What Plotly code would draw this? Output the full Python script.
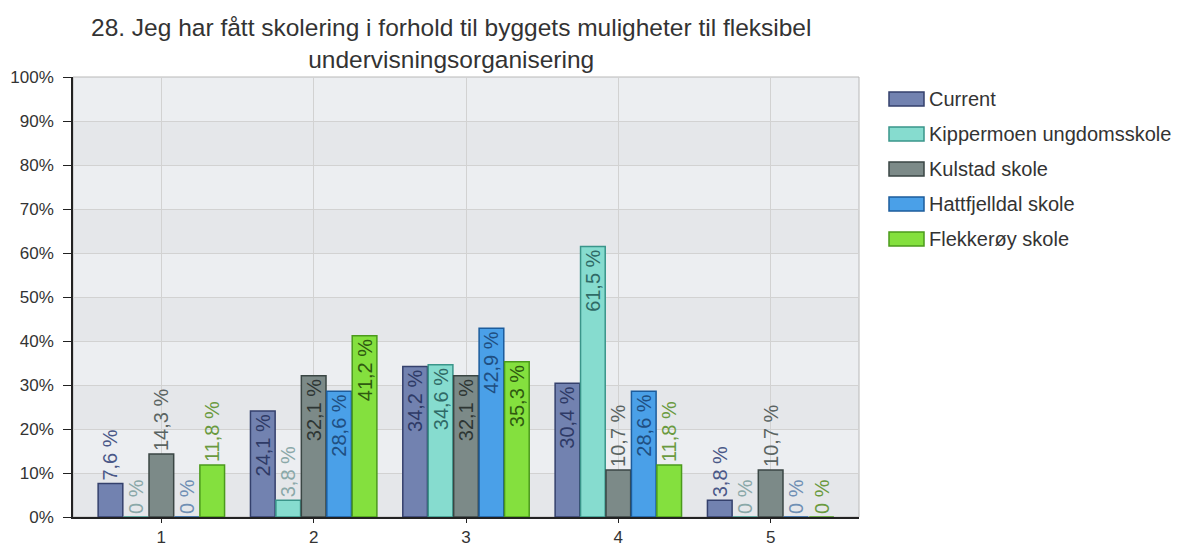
import plotly.graph_objects as go

# 数据
categories = ["1", "2", "3", "4", "5"]
series_names = ["Current", "Kippermoen ungdomsskole", "Kulstad skole",
                "Hattfjelldal skole", "Flekkerøy skole"]
current = [7.6, 24.1, 34.2, 30.4, 3.8]
kippermoen = [0, 3.8, 34.6, 61.5, 0]
kulstad = [14.3, 32.1, 32.1, 10.7, 10.7]
hattfjelldal = [0, 28.6, 42.9, 28.6, 0]
flekkeroy = [11.8, 41.2, 35.3, 11.8, 0]
y_ticks = [0, 10, 20, 30, 40, 50, 60, 70, 80, 90, 100]

title_text = ("28. Jeg har fått skolering i forhold til byggets muligheter til fleksibel"
              "<br>undervisningsorganisering")

fills = ["#7282b0", "#86dccf", "#7c8a88", "#4aa0e8", "#84e03e"]
borders = ["#34406c", "#3a958a", "#3a4644", "#1c5c9c", "#4b9a1c"]
label_colors = ["#4a5888", "#8aa8a8", "#5a6462", "#6f8fb4", "#6a9a40"]
inside_colors = ["#2e3a66", "#2f6a66", "#2e3634", "#1f4f82", "#2f5a10"]

# 页面 body 有 8px 边距，所以像素位置都减 8
OFF = 8
L, R, T, B = 73 - OFF, 859 - OFF, 77 - OFF, 517 - OFF
W, H = 1183 - OFF, 547 - OFF


def fmt(v):
    return ("%g" % v).replace(".", ",") + " %"


def px_x(px):
    return (px - OFF - L) / (R - L)


def px_y(py):
    return (B - (py - OFF)) / (B - T)


fig = go.Figure()

# 交替背景条带
for i in range(10):
    fig.add_shape(type="rect", xref="paper", yref="y", x0=0, x1=1,
                  y0=i * 10, y1=(i + 1) * 10, layer="below", line_width=0,
                  fillcolor="#eceef1" if i % 2 == 1 else "#e5e7ea")

all_values = [current, kippermoen, kulstad, hattfjelldal, flekkeroy]
for k, (name, vals) in enumerate(zip(series_names, all_values)):
    fig.add_trace(go.Bar(
        x=categories, y=vals, name=name,
        marker=dict(color=fills[k], line=dict(color=borders[k], width=1.5)),
        text=[fmt(v) for v in vals],
        textposition=["inside" if v >= 20 else "outside" for v in vals],
        textangle=-90,
        constraintext="none",
        insidetextanchor="end",
        insidetextfont=dict(color=inside_colors[k], size=20),
        outsidetextfont=dict(color=label_colors[k], size=20),
        cliponaxis=False,
        showlegend=False,
        hoverinfo="x+y+name",
    ))

    # 手绘图例
    cy = 99 + 35 * k
    fig.add_shape(type="rect", xref="paper", yref="paper",
                  x0=px_x(889), x1=px_x(924), y0=px_y(cy + 7), y1=px_y(cy - 7),
                  fillcolor=fills[k], line=dict(color=borders[k], width=1.5))
    fig.add_annotation(xref="paper", yref="paper", x=px_x(927), y=px_y(cy),
                       xanchor="left", yanchor="middle", text=name, showarrow=False,
                       font=dict(size=20, color="#333333"))

# 右上边框
fig.add_shape(type="rect", xref="paper", yref="paper", x0=0, x1=1, y0=0, y1=1,
              line=dict(color="#b8b8b8", width=1), layer="below")

# 标题
fig.add_annotation(xref="paper", yref="paper", x=px_x(451), y=1, yshift=2,
                   xanchor="center", yanchor="bottom", text=title_text,
                   showarrow=False, align="center",
                   font=dict(size=24.5, color="#333333"))

fig.update_layout(
    width=W, height=H,
    paper_bgcolor="white", plot_bgcolor="rgba(0,0,0,0)",
    font=dict(family="Liberation Sans, Arial, sans-serif", size=17, color="#333333"),
    margin=dict(l=L, r=W - R, t=T, b=H - B),
    barmode="group", bargap=0.165, bargroupgap=0.03,
    showlegend=False,
)

fig.update_xaxes(type="category", range=[-0.58, 4.58], showgrid=True,
                 gridcolor="#d2d2d2", showline=True, linecolor="#222222",
                 linewidth=1.5, ticks="outside", ticklen=4, tickcolor="#222222",
                 tickfont=dict(size=17, color="#333333"), zeroline=False,
                 ticklabelstandoff=0, automargin=False)
fig.update_yaxes(range=[0, 100], tickvals=y_ticks,
                 ticktext=[f"{t}%" for t in y_ticks], showgrid=True,
                 gridcolor="#d2d2d2", showline=True, linecolor="#222222",
                 linewidth=1.5, ticks="outside", ticklen=8, tickcolor="#222222",
                 tickfont=dict(size=17, color="#333333"), zeroline=False,
                 ticklabelstandoff=6, automargin=False)

fig.write_html("out.html")
